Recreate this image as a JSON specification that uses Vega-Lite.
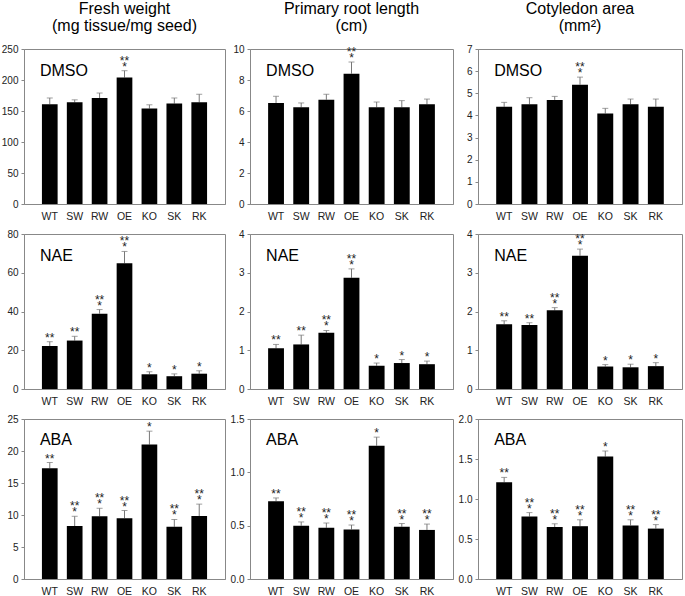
{
  "$schema": "https://vega.github.io/schema/vega-lite/v6.json",
  "padding": {"left": 0, "top": 0, "right": 0, "bottom": 0},
  "background": "white",
  "config": {
    "font": "Liberation Sans",
    "view": {"stroke": "#888", "strokeWidth": 1},
    "axis": {"grid": false, "domainColor": "#888", "tickColor": "#888", "labelColor": "#222", "labelFont": "Liberation Sans"},
    "axisX": {"ticks": false, "labelAngle": 0, "labelPadding": 7, "labelFontSize": 10.5, "minExtent": 20, "maxExtent": 20},
    "axisY": {"tickSize": 3, "labelPadding": 3, "labelFontSize": 10, "minExtent": 21, "maxExtent": 21, "labelOverlap": false},
    "title": {"fontSize": 16, "fontWeight": "normal", "lineHeight": 17, "offset": 10, "frame": "group", "color": "#000", "anchor": "middle"},
    "text": {"color": "#222"}
  },
  "datasets": {
    "fw_dmso": [
      {"g": "WT", "mean": 161, "upper": 171, "s1": "", "s2": ""},
      {"g": "SW", "mean": 164, "upper": 168, "s1": "", "s2": ""},
      {"g": "RW", "mean": 171, "upper": 179, "s1": "", "s2": ""},
      {"g": "OE", "mean": 204, "upper": 215, "s1": "**", "s2": "*"},
      {"g": "KO", "mean": 154, "upper": 160, "s1": "", "s2": ""},
      {"g": "SK", "mean": 162, "upper": 171, "s1": "", "s2": ""},
      {"g": "RK", "mean": 164, "upper": 177, "s1": "", "s2": ""}
    ],
    "rl_dmso": [
      {"g": "WT", "mean": 6.52, "upper": 6.95, "s1": "", "s2": ""},
      {"g": "SW", "mean": 6.24, "upper": 6.52, "s1": "", "s2": ""},
      {"g": "RW", "mean": 6.73, "upper": 7.08, "s1": "", "s2": ""},
      {"g": "OE", "mean": 8.41, "upper": 9.16, "s1": "**", "s2": "*"},
      {"g": "KO", "mean": 6.24, "upper": 6.58, "s1": "", "s2": ""},
      {"g": "SK", "mean": 6.24, "upper": 6.67, "s1": "", "s2": ""},
      {"g": "RK", "mean": 6.43, "upper": 6.77, "s1": "", "s2": ""}
    ],
    "ca_dmso": [
      {"g": "WT", "mean": 4.39, "upper": 4.59, "s1": "", "s2": ""},
      {"g": "SW", "mean": 4.5, "upper": 4.8, "s1": "", "s2": ""},
      {"g": "RW", "mean": 4.7, "upper": 4.86, "s1": "", "s2": ""},
      {"g": "OE", "mean": 5.39, "upper": 5.73, "s1": "**", "s2": "*"},
      {"g": "KO", "mean": 4.09, "upper": 4.32, "s1": "", "s2": ""},
      {"g": "SK", "mean": 4.5, "upper": 4.74, "s1": "", "s2": ""},
      {"g": "RK", "mean": 4.39, "upper": 4.74, "s1": "", "s2": ""}
    ],
    "fw_nae": [
      {"g": "WT", "mean": 22.2, "upper": 24.4, "s1": "", "s2": "**"},
      {"g": "SW", "mean": 25.0, "upper": 27.2, "s1": "", "s2": "**"},
      {"g": "RW", "mean": 38.9, "upper": 41.0, "s1": "**", "s2": "*"},
      {"g": "OE", "mean": 64.9, "upper": 71.0, "s1": "**", "s2": "*"},
      {"g": "KO", "mean": 7.6, "upper": 8.9, "s1": "", "s2": "*"},
      {"g": "SK", "mean": 6.6, "upper": 7.8, "s1": "", "s2": "*"},
      {"g": "RK", "mean": 7.9, "upper": 9.4, "s1": "", "s2": "*"}
    ],
    "rl_nae": [
      {"g": "WT", "mean": 1.05, "upper": 1.15, "s1": "", "s2": "**"},
      {"g": "SW", "mean": 1.15, "upper": 1.39, "s1": "", "s2": "**"},
      {"g": "RW", "mean": 1.45, "upper": 1.51, "s1": "**", "s2": "*"},
      {"g": "OE", "mean": 2.87, "upper": 3.1, "s1": "**", "s2": "*"},
      {"g": "KO", "mean": 0.6, "upper": 0.67, "s1": "", "s2": "*"},
      {"g": "SK", "mean": 0.67, "upper": 0.76, "s1": "", "s2": "*"},
      {"g": "RK", "mean": 0.64, "upper": 0.72, "s1": "", "s2": "*"}
    ],
    "ca_nae": [
      {"g": "WT", "mean": 1.67, "upper": 1.76, "s1": "", "s2": "**"},
      {"g": "SW", "mean": 1.65, "upper": 1.71, "s1": "", "s2": "**"},
      {"g": "RW", "mean": 2.03, "upper": 2.1, "s1": "**", "s2": "*"},
      {"g": "OE", "mean": 3.44, "upper": 3.61, "s1": "**", "s2": "*"},
      {"g": "KO", "mean": 0.58, "upper": 0.63, "s1": "", "s2": "*"},
      {"g": "SK", "mean": 0.56, "upper": 0.64, "s1": "", "s2": "*"},
      {"g": "RK", "mean": 0.59, "upper": 0.68, "s1": "", "s2": "*"}
    ],
    "fw_aba": [
      {"g": "WT", "mean": 17.3, "upper": 18.2, "s1": "", "s2": "**"},
      {"g": "SW", "mean": 8.27, "upper": 9.8, "s1": "**", "s2": "*"},
      {"g": "RW", "mean": 9.8, "upper": 11.05, "s1": "**", "s2": "*"},
      {"g": "OE", "mean": 9.5, "upper": 10.7, "s1": "**", "s2": "*"},
      {"g": "KO", "mean": 21.0, "upper": 23.1, "s1": "", "s2": "*"},
      {"g": "SK", "mean": 8.16, "upper": 9.3, "s1": "**", "s2": "*"},
      {"g": "RK", "mean": 9.84, "upper": 11.7, "s1": "**", "s2": "*"}
    ],
    "rl_aba": [
      {"g": "WT", "mean": 0.73, "upper": 0.76, "s1": "", "s2": "**"},
      {"g": "SW", "mean": 0.5, "upper": 0.535, "s1": "**", "s2": "*"},
      {"g": "RW", "mean": 0.48, "upper": 0.525, "s1": "**", "s2": "*"},
      {"g": "OE", "mean": 0.465, "upper": 0.506, "s1": "**", "s2": "*"},
      {"g": "KO", "mean": 1.25, "upper": 1.33, "s1": "", "s2": "*"},
      {"g": "SK", "mean": 0.49, "upper": 0.52, "s1": "**", "s2": "*"},
      {"g": "RK", "mean": 0.46, "upper": 0.515, "s1": "**", "s2": "*"}
    ],
    "ca_aba": [
      {"g": "WT", "mean": 1.21, "upper": 1.27, "s1": "", "s2": "**"},
      {"g": "SW", "mean": 0.78, "upper": 0.83, "s1": "**", "s2": "*"},
      {"g": "RW", "mean": 0.65, "upper": 0.69, "s1": "**", "s2": "*"},
      {"g": "OE", "mean": 0.66, "upper": 0.74, "s1": "**", "s2": "*"},
      {"g": "KO", "mean": 1.53, "upper": 1.6, "s1": "", "s2": "*"},
      {"g": "SK", "mean": 0.67, "upper": 0.74, "s1": "**", "s2": "*"},
      {"g": "RK", "mean": 0.63, "upper": 0.68, "s1": "**", "s2": "*"}
    ]
  },
  "spacing": 3,
  "vconcat": [
    {
      "spacing": 2,
      "hconcat": [
        {
          "width": 201, "height": 155,
          "title": {"text": ["Fresh weight", "(mg tissue/mg seed)"]},
          "data": {"name": "fw_dmso"},
          "encoding": {"x": {"field": "g", "type": "nominal", "sort": ["WT","SW","RW","OE","KO","SK","RK"], "title": null, "scale": {"paddingInner": 0.37, "paddingOuter": 0.72}}},
          "layer": [
            {"mark": {"type": "rule", "color": "#777"}, "encoding": {"y": {"field": "mean", "type": "quantitative", "scale": {"domain": [0, 250], "nice": false}, "axis": {"values": [0, 50, 100, 150, 200, 250], "labelOverlap": false, "title": null}}, "y2": {"field": "upper"}}},
            {"mark": {"type": "tick", "color": "#777", "size": 6, "thickness": 1}, "encoding": {"y": {"field": "upper", "type": "quantitative", "axis": {"values": [0, 50, 100, 150, 200, 250], "labelOverlap": false, "title": null}}}},
            {"mark": {"type": "bar", "color": "#000"}, "encoding": {"y": {"field": "mean", "type": "quantitative", "axis": {"values": [0, 50, 100, 150, 200, 250], "labelOverlap": false, "title": null}}}},
            {"mark": {"type": "text", "fontSize": 12, "baseline": "alphabetic", "dy": 0}, "encoding": {"y": {"field": "upper", "type": "quantitative", "axis": {"values": [0, 50, 100, 150, 200, 250], "labelOverlap": false, "title": null}}, "text": {"field": "s2"}}},
            {"mark": {"type": "text", "fontSize": 12, "baseline": "alphabetic", "dy": -6}, "encoding": {"y": {"field": "upper", "type": "quantitative", "axis": {"values": [0, 50, 100, 150, 200, 250], "labelOverlap": false, "title": null}}, "text": {"field": "s1"}}},
            {"data": {"values": [{"t": "DMSO"}]}, "mark": {"type": "text", "fontSize": 16, "color": "#000", "align": "left", "baseline": "alphabetic", "dx": -2}, "encoding": {"x": {"datum": "WT", "type": "nominal", "bandPosition": 0}, "y": {"datum": 206.5, "type": "quantitative", "axis": {"values": [0, 50, 100, 150, 200, 250], "labelOverlap": false, "title": null}}, "text": {"field": "t"}}}
          ]
        },
        {
          "width": 203, "height": 155,
          "title": {"text": ["Primary root length", "(cm)"]},
          "data": {"name": "rl_dmso"},
          "encoding": {"x": {"field": "g", "type": "nominal", "sort": ["WT","SW","RW","OE","KO","SK","RK"], "title": null, "scale": {"paddingInner": 0.37, "paddingOuter": 0.72}}},
          "layer": [
            {"mark": {"type": "rule", "color": "#777"}, "encoding": {"y": {"field": "mean", "type": "quantitative", "scale": {"domain": [0, 10], "nice": false}, "axis": {"values": [0, 2, 4, 6, 8, 10], "labelOverlap": false, "title": null}}, "y2": {"field": "upper"}}},
            {"mark": {"type": "tick", "color": "#777", "size": 6, "thickness": 1}, "encoding": {"y": {"field": "upper", "type": "quantitative", "axis": {"values": [0, 2, 4, 6, 8, 10], "labelOverlap": false, "title": null}}}},
            {"mark": {"type": "bar", "color": "#000"}, "encoding": {"y": {"field": "mean", "type": "quantitative", "axis": {"values": [0, 2, 4, 6, 8, 10], "labelOverlap": false, "title": null}}}},
            {"mark": {"type": "text", "fontSize": 12, "baseline": "alphabetic", "dy": 0}, "encoding": {"y": {"field": "upper", "type": "quantitative", "axis": {"values": [0, 2, 4, 6, 8, 10], "labelOverlap": false, "title": null}}, "text": {"field": "s2"}}},
            {"mark": {"type": "text", "fontSize": 12, "baseline": "alphabetic", "dy": -6}, "encoding": {"y": {"field": "upper", "type": "quantitative", "axis": {"values": [0, 2, 4, 6, 8, 10], "labelOverlap": false, "title": null}}, "text": {"field": "s1"}}},
            {"data": {"values": [{"t": "DMSO"}]}, "mark": {"type": "text", "fontSize": 16, "color": "#000", "align": "left", "baseline": "alphabetic", "dx": -2}, "encoding": {"x": {"datum": "WT", "type": "nominal", "bandPosition": 0}, "y": {"datum": 8.26, "type": "quantitative", "axis": {"values": [0, 2, 4, 6, 8, 10], "labelOverlap": false, "title": null}}, "text": {"field": "t"}}}
          ]
        },
        {
          "width": 204, "height": 155,
          "title": {"text": ["Cotyledon area", "(mm²)"]},
          "data": {"name": "ca_dmso"},
          "encoding": {"x": {"field": "g", "type": "nominal", "sort": ["WT","SW","RW","OE","KO","SK","RK"], "title": null, "scale": {"paddingInner": 0.37, "paddingOuter": 0.72}}},
          "layer": [
            {"mark": {"type": "rule", "color": "#777"}, "encoding": {"y": {"field": "mean", "type": "quantitative", "scale": {"domain": [0, 7], "nice": false}, "axis": {"values": [0, 1, 2, 3, 4, 5, 6, 7], "labelOverlap": false, "title": null}}, "y2": {"field": "upper"}}},
            {"mark": {"type": "tick", "color": "#777", "size": 6, "thickness": 1}, "encoding": {"y": {"field": "upper", "type": "quantitative", "axis": {"values": [0, 1, 2, 3, 4, 5, 6, 7], "labelOverlap": false, "title": null}}}},
            {"mark": {"type": "bar", "color": "#000"}, "encoding": {"y": {"field": "mean", "type": "quantitative", "axis": {"values": [0, 1, 2, 3, 4, 5, 6, 7], "labelOverlap": false, "title": null}}}},
            {"mark": {"type": "text", "fontSize": 12, "baseline": "alphabetic", "dy": 0}, "encoding": {"y": {"field": "upper", "type": "quantitative", "axis": {"values": [0, 1, 2, 3, 4, 5, 6, 7], "labelOverlap": false, "title": null}}, "text": {"field": "s2"}}},
            {"mark": {"type": "text", "fontSize": 12, "baseline": "alphabetic", "dy": -6}, "encoding": {"y": {"field": "upper", "type": "quantitative", "axis": {"values": [0, 1, 2, 3, 4, 5, 6, 7], "labelOverlap": false, "title": null}}, "text": {"field": "s1"}}},
            {"data": {"values": [{"t": "DMSO"}]}, "mark": {"type": "text", "fontSize": 16, "color": "#000", "align": "left", "baseline": "alphabetic", "dx": -2}, "encoding": {"x": {"datum": "WT", "type": "nominal", "bandPosition": 0}, "y": {"datum": 5.78, "type": "quantitative", "axis": {"values": [0, 1, 2, 3, 4, 5, 6, 7], "labelOverlap": false, "title": null}}, "text": {"field": "t"}}}
          ]
        }
      ]
    },
    {
      "spacing": 2,
      "hconcat": [
        {
          "width": 201, "height": 155,
          "data": {"name": "fw_nae"},
          "encoding": {"x": {"field": "g", "type": "nominal", "sort": ["WT","SW","RW","OE","KO","SK","RK"], "title": null, "scale": {"paddingInner": 0.37, "paddingOuter": 0.72}}},
          "layer": [
            {"mark": {"type": "rule", "color": "#777"}, "encoding": {"y": {"field": "mean", "type": "quantitative", "scale": {"domain": [0, 80], "nice": false}, "axis": {"values": [0, 20, 40, 60, 80], "labelOverlap": false, "title": null}}, "y2": {"field": "upper"}}},
            {"mark": {"type": "tick", "color": "#777", "size": 6, "thickness": 1}, "encoding": {"y": {"field": "upper", "type": "quantitative", "axis": {"values": [0, 20, 40, 60, 80], "labelOverlap": false, "title": null}}}},
            {"mark": {"type": "bar", "color": "#000"}, "encoding": {"y": {"field": "mean", "type": "quantitative", "axis": {"values": [0, 20, 40, 60, 80], "labelOverlap": false, "title": null}}}},
            {"mark": {"type": "text", "fontSize": 12, "baseline": "alphabetic", "dy": 0}, "encoding": {"y": {"field": "upper", "type": "quantitative", "axis": {"values": [0, 20, 40, 60, 80], "labelOverlap": false, "title": null}}, "text": {"field": "s2"}}},
            {"mark": {"type": "text", "fontSize": 12, "baseline": "alphabetic", "dy": -6}, "encoding": {"y": {"field": "upper", "type": "quantitative", "axis": {"values": [0, 20, 40, 60, 80], "labelOverlap": false, "title": null}}, "text": {"field": "s1"}}},
            {"data": {"values": [{"t": "NAE"}]}, "mark": {"type": "text", "fontSize": 16, "color": "#000", "align": "left", "baseline": "alphabetic", "dx": -2}, "encoding": {"x": {"datum": "WT", "type": "nominal", "bandPosition": 0}, "y": {"datum": 66.1, "type": "quantitative", "axis": {"values": [0, 20, 40, 60, 80], "labelOverlap": false, "title": null}}, "text": {"field": "t"}}}
          ]
        },
        {
          "width": 203, "height": 155,
          "data": {"name": "rl_nae"},
          "encoding": {"x": {"field": "g", "type": "nominal", "sort": ["WT","SW","RW","OE","KO","SK","RK"], "title": null, "scale": {"paddingInner": 0.37, "paddingOuter": 0.72}}},
          "layer": [
            {"mark": {"type": "rule", "color": "#777"}, "encoding": {"y": {"field": "mean", "type": "quantitative", "scale": {"domain": [0, 4], "nice": false}, "axis": {"values": [0, 1, 2, 3, 4], "labelOverlap": false, "title": null}}, "y2": {"field": "upper"}}},
            {"mark": {"type": "tick", "color": "#777", "size": 6, "thickness": 1}, "encoding": {"y": {"field": "upper", "type": "quantitative", "axis": {"values": [0, 1, 2, 3, 4], "labelOverlap": false, "title": null}}}},
            {"mark": {"type": "bar", "color": "#000"}, "encoding": {"y": {"field": "mean", "type": "quantitative", "axis": {"values": [0, 1, 2, 3, 4], "labelOverlap": false, "title": null}}}},
            {"mark": {"type": "text", "fontSize": 12, "baseline": "alphabetic", "dy": 0}, "encoding": {"y": {"field": "upper", "type": "quantitative", "axis": {"values": [0, 1, 2, 3, 4], "labelOverlap": false, "title": null}}, "text": {"field": "s2"}}},
            {"mark": {"type": "text", "fontSize": 12, "baseline": "alphabetic", "dy": -6}, "encoding": {"y": {"field": "upper", "type": "quantitative", "axis": {"values": [0, 1, 2, 3, 4], "labelOverlap": false, "title": null}}, "text": {"field": "s1"}}},
            {"data": {"values": [{"t": "NAE"}]}, "mark": {"type": "text", "fontSize": 16, "color": "#000", "align": "left", "baseline": "alphabetic", "dx": -2}, "encoding": {"x": {"datum": "WT", "type": "nominal", "bandPosition": 0}, "y": {"datum": 3.3, "type": "quantitative", "axis": {"values": [0, 1, 2, 3, 4], "labelOverlap": false, "title": null}}, "text": {"field": "t"}}}
          ]
        },
        {
          "width": 204, "height": 155,
          "data": {"name": "ca_nae"},
          "encoding": {"x": {"field": "g", "type": "nominal", "sort": ["WT","SW","RW","OE","KO","SK","RK"], "title": null, "scale": {"paddingInner": 0.37, "paddingOuter": 0.72}}},
          "layer": [
            {"mark": {"type": "rule", "color": "#777"}, "encoding": {"y": {"field": "mean", "type": "quantitative", "scale": {"domain": [0, 4], "nice": false}, "axis": {"values": [0, 1, 2, 3, 4], "labelOverlap": false, "title": null}}, "y2": {"field": "upper"}}},
            {"mark": {"type": "tick", "color": "#777", "size": 6, "thickness": 1}, "encoding": {"y": {"field": "upper", "type": "quantitative", "axis": {"values": [0, 1, 2, 3, 4], "labelOverlap": false, "title": null}}}},
            {"mark": {"type": "bar", "color": "#000"}, "encoding": {"y": {"field": "mean", "type": "quantitative", "axis": {"values": [0, 1, 2, 3, 4], "labelOverlap": false, "title": null}}}},
            {"mark": {"type": "text", "fontSize": 12, "baseline": "alphabetic", "dy": 0}, "encoding": {"y": {"field": "upper", "type": "quantitative", "axis": {"values": [0, 1, 2, 3, 4], "labelOverlap": false, "title": null}}, "text": {"field": "s2"}}},
            {"mark": {"type": "text", "fontSize": 12, "baseline": "alphabetic", "dy": -6}, "encoding": {"y": {"field": "upper", "type": "quantitative", "axis": {"values": [0, 1, 2, 3, 4], "labelOverlap": false, "title": null}}, "text": {"field": "s1"}}},
            {"data": {"values": [{"t": "NAE"}]}, "mark": {"type": "text", "fontSize": 16, "color": "#000", "align": "left", "baseline": "alphabetic", "dx": -2}, "encoding": {"x": {"datum": "WT", "type": "nominal", "bandPosition": 0}, "y": {"datum": 3.3, "type": "quantitative", "axis": {"values": [0, 1, 2, 3, 4], "labelOverlap": false, "title": null}}, "text": {"field": "t"}}}
          ]
        }
      ]
    },
    {
      "spacing": 2,
      "hconcat": [
        {
          "width": 201, "height": 160,
          "data": {"name": "fw_aba"},
          "encoding": {"x": {"field": "g", "type": "nominal", "sort": ["WT","SW","RW","OE","KO","SK","RK"], "title": null, "scale": {"paddingInner": 0.37, "paddingOuter": 0.72}}},
          "layer": [
            {"mark": {"type": "rule", "color": "#777"}, "encoding": {"y": {"field": "mean", "type": "quantitative", "scale": {"domain": [0, 25], "nice": false}, "axis": {"values": [0, 5, 10, 15, 20, 25], "labelOverlap": false, "title": null}}, "y2": {"field": "upper"}}},
            {"mark": {"type": "tick", "color": "#777", "size": 6, "thickness": 1}, "encoding": {"y": {"field": "upper", "type": "quantitative", "axis": {"values": [0, 5, 10, 15, 20, 25], "labelOverlap": false, "title": null}}}},
            {"mark": {"type": "bar", "color": "#000"}, "encoding": {"y": {"field": "mean", "type": "quantitative", "axis": {"values": [0, 5, 10, 15, 20, 25], "labelOverlap": false, "title": null}}}},
            {"mark": {"type": "text", "fontSize": 12, "baseline": "alphabetic", "dy": 0}, "encoding": {"y": {"field": "upper", "type": "quantitative", "axis": {"values": [0, 5, 10, 15, 20, 25], "labelOverlap": false, "title": null}}, "text": {"field": "s2"}}},
            {"mark": {"type": "text", "fontSize": 12, "baseline": "alphabetic", "dy": -6}, "encoding": {"y": {"field": "upper", "type": "quantitative", "axis": {"values": [0, 5, 10, 15, 20, 25], "labelOverlap": false, "title": null}}, "text": {"field": "s1"}}},
            {"data": {"values": [{"t": "ABA"}]}, "mark": {"type": "text", "fontSize": 16, "color": "#000", "align": "left", "baseline": "alphabetic", "dx": -2}, "encoding": {"x": {"datum": "WT", "type": "nominal", "bandPosition": 0}, "y": {"datum": 20.9, "type": "quantitative", "axis": {"values": [0, 5, 10, 15, 20, 25], "labelOverlap": false, "title": null}}, "text": {"field": "t"}}}
          ]
        },
        {
          "width": 203, "height": 160,
          "data": {"name": "rl_aba"},
          "encoding": {"x": {"field": "g", "type": "nominal", "sort": ["WT","SW","RW","OE","KO","SK","RK"], "title": null, "scale": {"paddingInner": 0.37, "paddingOuter": 0.72}}},
          "layer": [
            {"mark": {"type": "rule", "color": "#777"}, "encoding": {"y": {"field": "mean", "type": "quantitative", "scale": {"domain": [0, 1.5], "nice": false}, "axis": {"values": [0, 0.5, 1, 1.5], "format": ".1f", "labelOverlap": false, "title": null}}, "y2": {"field": "upper"}}},
            {"mark": {"type": "tick", "color": "#777", "size": 6, "thickness": 1}, "encoding": {"y": {"field": "upper", "type": "quantitative", "axis": {"values": [0, 0.5, 1, 1.5], "format": ".1f", "labelOverlap": false, "title": null}}}},
            {"mark": {"type": "bar", "color": "#000"}, "encoding": {"y": {"field": "mean", "type": "quantitative", "axis": {"values": [0, 0.5, 1, 1.5], "format": ".1f", "labelOverlap": false, "title": null}}}},
            {"mark": {"type": "text", "fontSize": 12, "baseline": "alphabetic", "dy": 0}, "encoding": {"y": {"field": "upper", "type": "quantitative", "axis": {"values": [0, 0.5, 1, 1.5], "format": ".1f", "labelOverlap": false, "title": null}}, "text": {"field": "s2"}}},
            {"mark": {"type": "text", "fontSize": 12, "baseline": "alphabetic", "dy": -6}, "encoding": {"y": {"field": "upper", "type": "quantitative", "axis": {"values": [0, 0.5, 1, 1.5], "format": ".1f", "labelOverlap": false, "title": null}}, "text": {"field": "s1"}}},
            {"data": {"values": [{"t": "ABA"}]}, "mark": {"type": "text", "fontSize": 16, "color": "#000", "align": "left", "baseline": "alphabetic", "dx": -2}, "encoding": {"x": {"datum": "WT", "type": "nominal", "bandPosition": 0}, "y": {"datum": 1.255, "type": "quantitative", "axis": {"values": [0, 0.5, 1, 1.5], "format": ".1f", "labelOverlap": false, "title": null}}, "text": {"field": "t"}}}
          ]
        },
        {
          "width": 204, "height": 160,
          "data": {"name": "ca_aba"},
          "encoding": {"x": {"field": "g", "type": "nominal", "sort": ["WT","SW","RW","OE","KO","SK","RK"], "title": null, "scale": {"paddingInner": 0.37, "paddingOuter": 0.72}}},
          "layer": [
            {"mark": {"type": "rule", "color": "#777"}, "encoding": {"y": {"field": "mean", "type": "quantitative", "scale": {"domain": [0, 2], "nice": false}, "axis": {"values": [0, 0.5, 1, 1.5, 2], "format": ".1f", "labelOverlap": false, "title": null}}, "y2": {"field": "upper"}}},
            {"mark": {"type": "tick", "color": "#777", "size": 6, "thickness": 1}, "encoding": {"y": {"field": "upper", "type": "quantitative", "axis": {"values": [0, 0.5, 1, 1.5, 2], "format": ".1f", "labelOverlap": false, "title": null}}}},
            {"mark": {"type": "bar", "color": "#000"}, "encoding": {"y": {"field": "mean", "type": "quantitative", "axis": {"values": [0, 0.5, 1, 1.5, 2], "format": ".1f", "labelOverlap": false, "title": null}}}},
            {"mark": {"type": "text", "fontSize": 12, "baseline": "alphabetic", "dy": 0}, "encoding": {"y": {"field": "upper", "type": "quantitative", "axis": {"values": [0, 0.5, 1, 1.5, 2], "format": ".1f", "labelOverlap": false, "title": null}}, "text": {"field": "s2"}}},
            {"mark": {"type": "text", "fontSize": 12, "baseline": "alphabetic", "dy": -6}, "encoding": {"y": {"field": "upper", "type": "quantitative", "axis": {"values": [0, 0.5, 1, 1.5, 2], "format": ".1f", "labelOverlap": false, "title": null}}, "text": {"field": "s1"}}},
            {"data": {"values": [{"t": "ABA"}]}, "mark": {"type": "text", "fontSize": 16, "color": "#000", "align": "left", "baseline": "alphabetic", "dx": -2}, "encoding": {"x": {"datum": "WT", "type": "nominal", "bandPosition": 0}, "y": {"datum": 1.674, "type": "quantitative", "axis": {"values": [0, 0.5, 1, 1.5, 2], "format": ".1f", "labelOverlap": false, "title": null}}, "text": {"field": "t"}}}
          ]
        }
      ]
    }
  ]
}
